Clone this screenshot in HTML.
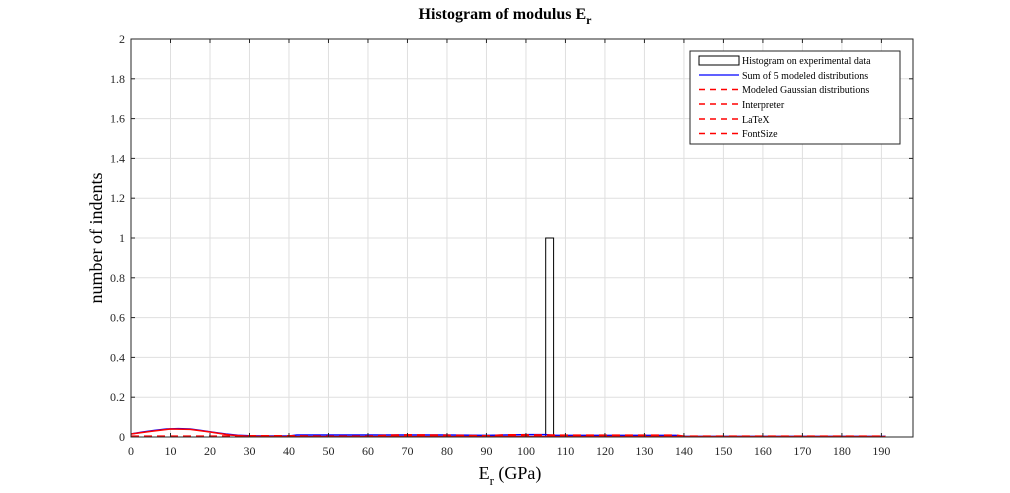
<!DOCTYPE html>
<html><head><meta charset="utf-8"><style>
body{margin:0;background:#fff;}
svg{display:block;font-family:"Liberation Serif",serif;}
</style></head><body>
<svg id="chart" width="1010" height="493" xmlns="http://www.w3.org/2000/svg">
<rect x="0" y="0" width="1010" height="493" fill="#fff"/>
<g id="grid"></g>
<g id="marks"></g>
<rect x="131" y="39" width="782" height="398" fill="none" stroke="#262626" stroke-width="1"/>
<g id="ticks"></g>
<text x="505" y="19" text-anchor="middle" font-size="16" font-weight="bold">Histogram of modulus E<tspan font-size="12" dy="5">r</tspan></text>
<text x="510" y="479" text-anchor="middle" font-size="18">E<tspan font-size="13" dy="6">r</tspan><tspan dy="-6"> (GPa)</tspan></text>
<text transform="translate(102,238) rotate(-90)" text-anchor="middle" font-size="18">number of indents</text>
<g>
<rect x="690" y="51" width="210" height="93" fill="#fff" stroke="#262626"/>
<rect x="699" y="56" width="40" height="9" fill="none" stroke="#000"/>
<text x="742" y="64" font-size="10">Histogram on experimental data</text>
<line x1="699" y1="75" x2="739" y2="75" stroke="#0000ff" stroke-width="1.2"/>
<text x="742" y="79" font-size="10">Sum of 5 modeled distributions</text>
<line x1="699" y1="89.5" x2="739" y2="89.5" stroke="#ff0000" stroke-width="1.5" stroke-dasharray="6,5"/>
<text x="742" y="93" font-size="10">Modeled Gaussian distributions</text>
<line x1="699" y1="104" x2="739" y2="104" stroke="#ff0000" stroke-width="1.5" stroke-dasharray="6,5"/>
<text x="742" y="108" font-size="10">Interpreter</text>
<line x1="699" y1="119" x2="739" y2="119" stroke="#ff0000" stroke-width="1.5" stroke-dasharray="6,5"/>
<text x="742" y="123" font-size="10">LaTeX</text>
<line x1="699" y1="133.5" x2="739" y2="133.5" stroke="#ff0000" stroke-width="1.5" stroke-dasharray="6,5"/>
<text x="742" y="137" font-size="10">FontSize</text>
</g>
</svg>
<script>
const xTicks=[0,10,20,30,40,50,60,70,80,90,100,110,120,130,140,150,160,170,180,190];
const yTicks=[0,0.2,0.4,0.6,0.8,1,1.2,1.4,1.6,1.8,2];
const yTickLabels=["0","0.2","0.4","0.6","0.8","1","1.2","1.4","1.6","1.8","2"];
const histEdges=[105,107];
const histCounts=[1];
const sumX=[0,3,6,9,12,15,18,21,24,27,30,35,40,42,50,60,70,80,90,95,100,105,107,110,120,130,138,140,150,160,170,180,191];
const sumY=[0.015,0.025,0.033,0.04,0.042,0.04,0.032,0.023,0.015,0.009,0.006,0.005,0.005,0.01,0.01,0.01,0.01,0.01,0.008,0.01,0.012,0.012,0.008,0.008,0.008,0.008,0.008,0.003,0.003,0.003,0.003,0.003,0.003];
const gaussX=[0,5,10,15,20,25,30,40,50,60,65,70,80,90,95,100,110,120,130,138,140,150,160,170,180,191];
const gaussY=[0.003,0.003,0.003,0.003,0.003,0.004,0.005,0.005,0.003,0.003,0.008,0.01,0.008,0.005,0.01,0.01,0.008,0.008,0.008,0.008,0.003,0.003,0.003,0.003,0.003,0.003];
const gauss2Y=[0.015,0.028,0.04,0.038,0.025,0.01,0.003,0.002,0.002,0.002,0.002,0.002,0.002,0.002,0.002,0.002,0.002,0.002,0.002,0.002,0.002,0.002,0.002,0.002,0.002,0.002];
const X=v=>131+v*(782/198), Y=v=>437-v*199;
const NS="http://www.w3.org/2000/svg";
const mk=(p,t,a)=>{const e=document.createElementNS(NS,t);for(const k in a)e.setAttribute(k,a[k]);p.appendChild(e);return e;};
const grid=document.getElementById('grid'),ticks=document.getElementById('ticks'),marks=document.getElementById('marks');
xTicks.forEach(v=>{
 const g=mk(grid,'line',{x1:X(v),x2:X(v),y1:39,y2:437,stroke:'#dfdfdf'});
 
 [[437,433],[39,43]].forEach(([a,b])=>{const t=mk(ticks,'line',{x1:X(v),x2:X(v),y1:a,y2:b,stroke:'#262626'});
 });
 const l=mk(ticks,'text',{x:X(v),y:455,'text-anchor':'middle','font-size':'12',fill:'#262626'});l.textContent=v;
 
});
yTicks.forEach((v,i)=>{
 const g=mk(grid,'line',{x1:131,x2:913,y1:Y(v),y2:Y(v),stroke:'#dfdfdf'});
 
 [[131,135],[913,909]].forEach(([a,b])=>{const t=mk(ticks,'line',{x1:a,x2:b,y1:Y(v),y2:Y(v),stroke:'#262626'});
 });
 const l=mk(ticks,'text',{x:125,y:Y(v)+4,'text-anchor':'end','font-size':'12',fill:'#262626'});l.textContent=yTickLabels[i];
 
});
histCounts.forEach((c,i)=>{
 const r=mk(marks,'rect',{x:X(histEdges[i]),y:Y(c),width:X(histEdges[i+1])-X(histEdges[i]),height:Y(0)-Y(c),fill:'none',stroke:'#000'});
 
});
const path=(xs,ys)=>xs.map((x,i)=>(i?'L':'M')+X(x).toFixed(1)+','+Y(ys[i]).toFixed(1)).join('');
const s=mk(marks,'path',{d:path(sumX,sumY),fill:'none',stroke:'#0000ff','stroke-width':1.5});

const g1=mk(marks,'path',{d:path(gaussX,gaussY),fill:'none',stroke:'#ff0000','stroke-width':2,'stroke-dasharray':'8,5'});

const g2=mk(marks,'path',{d:path(gaussX,gauss2Y),fill:'none',stroke:'#ff0000','stroke-width':1.5});

</script>
</body></html>
